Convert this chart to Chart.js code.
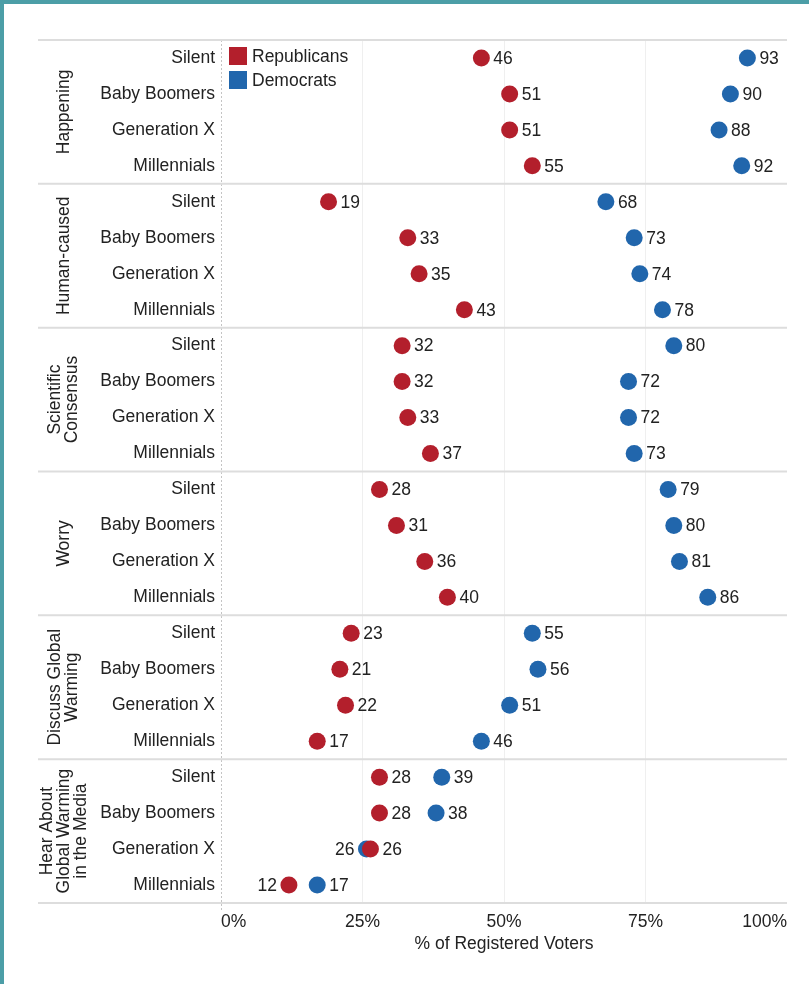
<!DOCTYPE html>
<html>
<head>
<meta charset="utf-8">
<script src="https://cdn.jsdelivr.net/npm/chart.js@4"></script>
<style>
  html, body { margin: 0; padding: 0; background: #fff; }
</style>
</head>
<body>
<canvas id="chart" width="809" height="984"></canvas>
<script>
// groups (left, rotated) and the four generations inside each
const groupLines = [
    ['Happening'],
    ['Human-caused'],
    ['Scientific', 'Consensus'],
    ['Worry'],
    ['Discuss Global', 'Warming'],
    ['Hear About', 'Global Warming', 'in the Media']
];
const generations = ['Silent', 'Baby Boomers', 'Generation X', 'Millennials'];

// % of registered voters, one value per row (group x generation)
const republicans = [
    46, 51, 51, 55,
    19, 33, 35, 43,
    32, 32, 33, 37,
    28, 31, 36, 40,
    23, 21, 22, 17,
    28, 28, 26.4, 12
];
const democrats = [
    93, 90, 88, 92,
    68, 73, 74, 78,
    80, 72, 72, 73,
    79, 80, 81, 86,
    55, 56, 51, 46,
    39, 38, 25.7, 17
];
const xTicks = [0, 25, 50, 75, 100];

const RED = '#b31f2c';
const BLUE = '#2166ac';
const TEAL = '#4c9ea7';
const TEXT = '#222';
const FONT_FAMILY = "'Liberation Sans', Arial, Helvetica, sans-serif";
const font = { family: FONT_FAMILY, size: 17.5 };

const rowLabels = groupLines.flatMap(() => generations);

const decorations = {
    id: 'decorations',
    beforeDraw(chart) {
        const { ctx } = chart;
        ctx.save();
        ctx.fillStyle = '#fff';
        ctx.fillRect(0, 0, chart.width, chart.height);
        ctx.fillStyle = TEAL;
        ctx.fillRect(0, 0, chart.width, 4);
        ctx.fillRect(0, 0, 4, chart.height);
        ctx.restore();
    },
    beforeDatasetsDraw(chart) {
        const { ctx, chartArea, scales: { y } } = chart;
        ctx.save();

        // dotted axis line on the left of the plot
        ctx.strokeStyle = '#c4c4c4';
        ctx.lineWidth = 1;
        ctx.setLineDash([2, 2]);
        ctx.beginPath();
        ctx.moveTo(chartArea.left + 0.5, chartArea.top);
        ctx.lineTo(chartArea.left + 0.5, chartArea.bottom + 9);
        ctx.stroke();
        ctx.setLineDash([]);

        // separators between groups
        ctx.strokeStyle = '#dddddd';
        ctx.lineWidth = 2;
        for (let g = 0; g <= groupLines.length; g++) {
            const yy = y.getPixelForValue(g * generations.length - 0.5);
            ctx.beginPath();
            ctx.moveTo(38, yy);
            ctx.lineTo(chartArea.right, yy);
            ctx.stroke();
        }

        // rotated group names
        ctx.fillStyle = TEXT;
        ctx.font = `${font.size}px ${FONT_FAMILY}`;
        ctx.textAlign = 'center';
        ctx.textBaseline = 'middle';
        const lh = 17;
        groupLines.forEach((lines, g) => {
            const top = y.getPixelForValue(g * generations.length - 0.5);
            const bottom = y.getPixelForValue((g + 1) * generations.length - 0.5);
            ctx.save();
            ctx.translate(64, (top + bottom) / 2);
            ctx.rotate(-Math.PI / 2);
            lines.forEach((line, i) => {
                ctx.fillText(line, 0, (i - (lines.length - 1) / 2) * lh);
            });
            ctx.restore();
        });
        ctx.restore();
    },
    afterDatasetsDraw(chart) {
        const { ctx, chartArea } = chart;
        const sets = chart.data.datasets;
        ctx.save();
        ctx.font = `${font.size}px ${FONT_FAMILY}`;
        ctx.fillStyle = TEXT;
        ctx.textBaseline = 'middle';

        // value labels next to each dot
        sets.forEach((ds, d) => {
            const other = sets[1 - d].data;
            chart.getDatasetMeta(d).data.forEach((pt, i) => {
                const v = ds.data[i];
                const o = other[i];
                const left = v < o && o - v < 10;
                ctx.textAlign = left ? 'right' : 'left';
                ctx.fillText(String(Math.round(v)), pt.x + (left ? -12 : 12), pt.y + 1);
            });
        });

        // legend inside the plot, top left
        sets.forEach((ds, d) => {
            const x = chartArea.left + 8;
            const y = chartArea.top + 7 + d * 24;
            ctx.fillStyle = ds.pointBackgroundColor;
            ctx.fillRect(x, y, 18, 18);
            ctx.fillStyle = TEXT;
            ctx.textAlign = 'left';
            ctx.fillText(ds.label, x + 23, y + 10);
        });
        ctx.restore();
    }
};

new Chart(document.getElementById('chart'), {
    type: 'line',
    data: {
        labels: rowLabels,
        datasets: [
            {
                label: 'Republicans',
                data: republicans,
                showLine: false,
                pointRadius: 8.5,
                pointBorderWidth: 0,
                pointBackgroundColor: RED,
                borderColor: RED,
                order: 0
            },
            {
                label: 'Democrats',
                data: democrats,
                showLine: false,
                pointRadius: 8.5,
                pointBorderWidth: 0,
                pointBackgroundColor: BLUE,
                borderColor: BLUE,
                order: 1
            }
        ]
    },
    options: {
        indexAxis: 'y',
        responsive: false,
        animation: false,
        events: [],
        layout: { padding: { top: 40, right: 22, bottom: 29, left: 0 } },
        plugins: {
            legend: { display: false },
            tooltip: { enabled: false }
        },
        scales: {
            x: {
                type: 'linear',
                position: 'bottom',
                min: 0,
                max: 100,
                afterBuildTicks: s => { s.ticks = xTicks.map(v => ({ value: v })); },
                ticks: {
                    align: 'inner',
                    padding: 9,
                    maxRotation: 0,
                    autoSkip: false,
                    font,
                    color: TEXT,
                    callback: v => v + '%'
                },
                grid: {
                    drawTicks: false,
                    color: c => (c.tick && (c.tick.value === 0 || c.tick.value === 100)) ? 'rgba(0,0,0,0)' : '#efefef'
                },
                border: { display: false },
                title: {
                    display: true,
                    text: '% of Registered Voters',
                    font,
                    color: TEXT,
                    padding: 0
                },
                afterFit: s => { s.height = 52; }
            },
            y: {
                type: 'category',
                offset: true,
                ticks: { autoSkip: false, padding: 6, font, color: TEXT },
                grid: { display: false, drawTicks: false },
                border: { display: false },
                afterFit: s => { s.width = 221; }
            }
        }
    },
    plugins: [decorations]
});
</script>
</body>
</html>
